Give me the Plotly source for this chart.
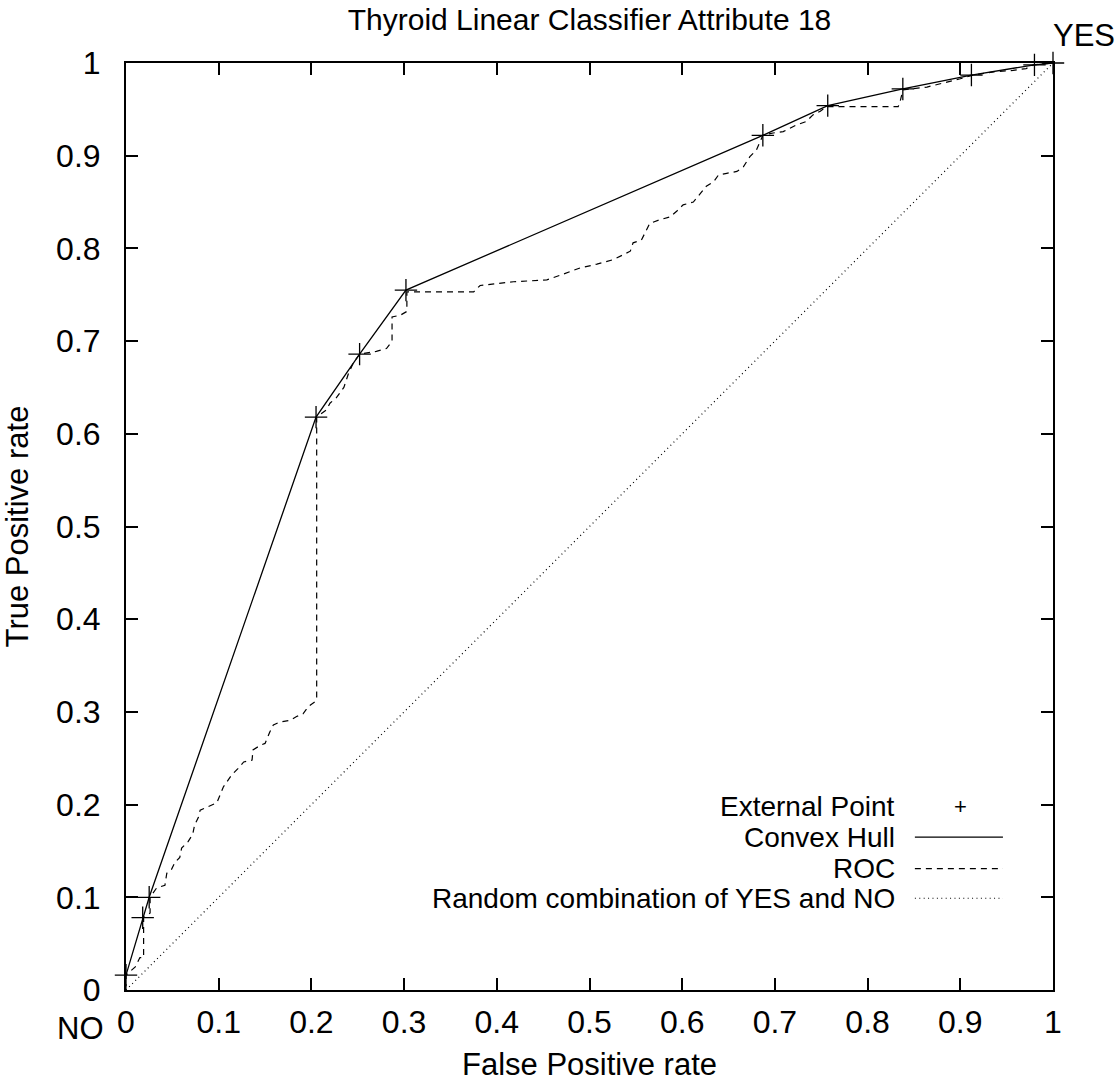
import plotly.graph_objects as go

# --- data ---
hull_fpr = [0, 0.018, 0.025, 0.205, 0.252, 0.302, 0.687, 0.757, 0.838, 0.912, 0.980, 1.0]
hull_tpr = [0.016, 0.078, 0.100, 0.618, 0.686, 0.755, 0.922, 0.954, 0.972, 0.987, 0.998, 1.0]

roc_fpr = [0, 0, 0.010, 0.015, 0.019, 0.019, 0.026, 0.026, 0.033, 0.042, 0.044, 0.049,
           0.053, 0.058, 0.060, 0.067, 0.072, 0.074, 0.078, 0.080, 0.089, 0.098, 0.105,
           0.114, 0.121, 0.127, 0.136, 0.137, 0.145, 0.150, 0.155, 0.159, 0.166, 0.177,
           0.184, 0.191, 0.197, 0.204, 0.2057, 0.2057, 0.2165, 0.220, 0.227, 0.235, 0.240,
           0.245, 0.252, 0.270, 0.281, 0.287, 0.287, 0.296, 0.303, 0.303, 0.375, 0.382,
           0.418, 0.454, 0.471, 0.490, 0.508, 0.526, 0.544, 0.547, 0.556, 0.565, 0.576,
           0.587, 0.594, 0.601, 0.612, 0.619, 0.626, 0.634, 0.639, 0.648, 0.659, 0.666,
           0.673, 0.680, 0.685, 0.687, 0.698, 0.709, 0.723, 0.734, 0.741, 0.749, 0.756,
           0.833, 0.835, 0.837, 0.838, 0.864, 0.881, 0.900, 0.914, 0.936, 0.957, 0.971,
           0.979, 1.0]
roc_tpr = [0, 0.016, 0.025, 0.035, 0.035, 0.078, 0.083, 0.100, 0.110, 0.113, 0.126, 0.130,
           0.138, 0.143, 0.153, 0.160, 0.168, 0.178, 0.186, 0.194, 0.198, 0.202, 0.219,
           0.232, 0.239, 0.246, 0.248, 0.259, 0.264, 0.266, 0.278, 0.286, 0.289, 0.291,
           0.295, 0.298, 0.306, 0.311, 0.315, 0.618, 0.626, 0.633, 0.639, 0.650, 0.665,
           0.676, 0.686, 0.689, 0.692, 0.700, 0.726, 0.728, 0.732, 0.753, 0.753, 0.760,
           0.764, 0.766, 0.772, 0.779, 0.783, 0.788, 0.797, 0.806, 0.809, 0.827, 0.831,
           0.834, 0.840, 0.847, 0.850, 0.859, 0.867, 0.872, 0.879, 0.881, 0.883, 0.888,
           0.899, 0.906, 0.917, 0.922, 0.9245, 0.926, 0.933, 0.937, 0.944, 0.948, 0.953,
           0.953, 0.958, 0.969, 0.971, 0.974, 0.978, 0.983, 0.987, 0.9905, 0.992, 0.994,
           0.998, 1.0]

random_fpr = [0, 1]
random_tpr = [0, 1]

ticks = [0, 0.1, 0.2, 0.3, 0.4, 0.5, 0.6, 0.7, 0.8, 0.9, 1]
tick_text = ["0", "0.1", "0.2", "0.3", "0.4", "0.5", "0.6", "0.7", "0.8", "0.9", "1"]

legend_names = ["External Point", "Convex Hull", "ROC", "Random combination of YES and NO"]

FONT = "Liberation Sans, Arial, sans-serif"
FS = 31
KEY_FS = 28
DASH = "6px,5px"
DOT = "1px,3.4px"

fig = go.Figure()

fig.add_trace(go.Scatter(x=random_fpr, y=random_tpr, mode="lines",
                         line=dict(color="black", width=1.2, dash=DOT),
                         showlegend=False, hoverinfo="skip"))
fig.add_trace(go.Scatter(x=roc_fpr, y=roc_tpr, mode="lines",
                         line=dict(color="black", width=1.2, dash=DASH),
                         showlegend=False))
fig.add_trace(go.Scatter(x=hull_fpr, y=hull_tpr, mode="lines",
                         line=dict(color="black", width=1.3),
                         showlegend=False))
fig.add_trace(go.Scatter(x=hull_fpr, y=hull_tpr, mode="markers",
                         marker=dict(symbol="cross-thin", size=16,
                                     line=dict(color="black", width=1.3)),
                         cliponaxis=False, showlegend=False))

# --- gnuplot style key: text right-aligned, sample on the right ---
key_y = [0.198, 0.165, 0.131, 0.099]
text_x = 0.832
samp_x0, samp_x1 = 0.851, 0.946
for name, ky in zip(legend_names, key_y):
    fig.add_annotation(x=text_x, y=ky, xref="paper", yref="paper", text=name,
                       showarrow=False, xanchor="right", yanchor="middle",
                       font=dict(family=FONT, size=KEY_FS, color="black"))
fig.add_annotation(x=0.8997, y=key_y[0], xref="paper", yref="paper",
                   text="+", showarrow=False, xanchor="center", yanchor="middle",
                   font=dict(family=FONT, size=22, color="black"))
fig.add_shape(type="line", xref="paper", yref="paper", x0=samp_x0, x1=samp_x1,
              y0=key_y[1], y1=key_y[1], line=dict(color="black", width=1.3))
fig.add_shape(type="line", xref="paper", yref="paper", x0=samp_x0, x1=samp_x1,
              y0=key_y[2], y1=key_y[2], line=dict(color="black", width=1.2, dash=DASH))
fig.add_shape(type="line", xref="paper", yref="paper", x0=samp_x0, x1=samp_x1,
              y0=key_y[3], y1=key_y[3], line=dict(color="black", width=1.2, dash=DOT))

# corner labels
fig.add_annotation(x=0, y=0, text="NO", showarrow=False, xshift=-46, yshift=-38,
                   font=dict(family=FONT, size=FS, color="black"))
fig.add_annotation(x=1, y=1, text="YES", showarrow=False, xshift=31, yshift=28,
                   font=dict(family=FONT, size=FS, color="black"))

axis_common = dict(range=[0, 1], tickvals=ticks, ticktext=tick_text,
                   showgrid=False, zeroline=False, showline=True, linecolor="black",
                   linewidth=2, mirror="ticks", ticks="inside", ticklen=12,
                   tickwidth=2, tickcolor="black", automargin=False,
                   tickfont=dict(family=FONT, size=32, color="black"))

fig.update_layout(
    width=1117, height=1083,
    margin=dict(l=126, r=64, t=63, b=93),
    plot_bgcolor="white", paper_bgcolor="white",
    title=dict(text="Thyroid Linear Classifier Attribute 18", x=0.5, xref="paper",
               xanchor="center", y=1 - 19 / 1083, yref="container", yanchor="middle",
               automargin=False,
               font=dict(family=FONT, size=30, color="black")),
    xaxis=dict(title=dict(text="False Positive rate", standoff=14,
                          font=dict(family=FONT, size=FS, color="black")),
               ticklabelstandoff=3, **axis_common),
    yaxis=dict(title=dict(text="True Positive rate", standoff=20,
                          font=dict(family=FONT, size=FS, color="black")),
               ticklabelstandoff=17, **axis_common),
    showlegend=False,
)

# drop the default body margin so the figure sits at the page corner
fig.write_html("out.html", config={"displayModeBar": False},
               post_script="document.body.style.margin='0';")
